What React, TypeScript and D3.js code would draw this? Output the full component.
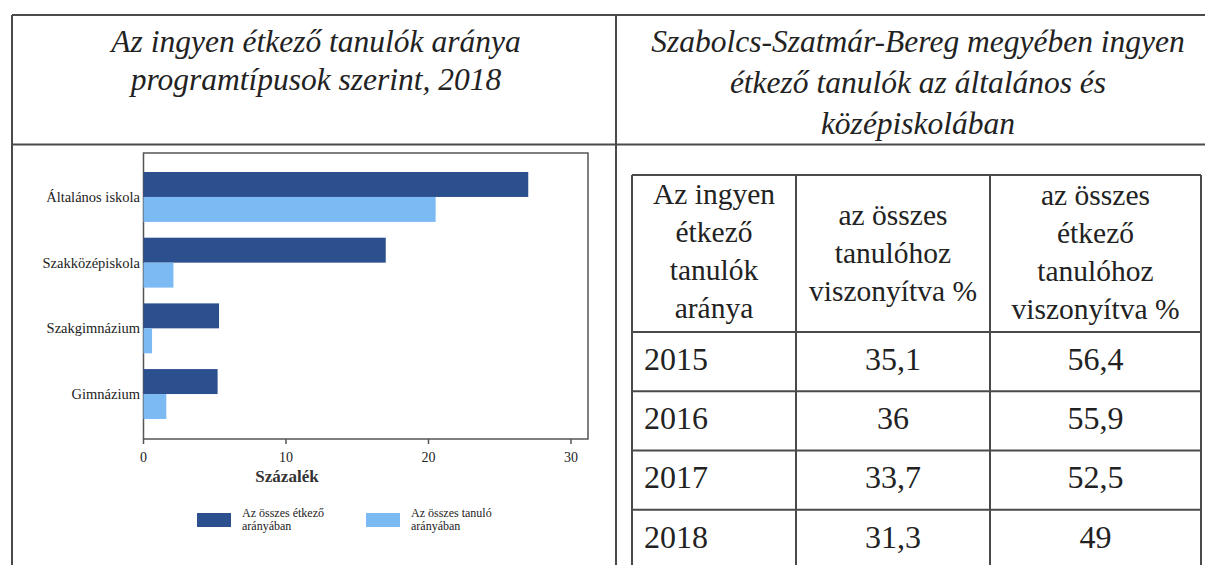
import React from "react";
import * as d3 from "d3";

const categories = ["Általános iskola", "Szakközépiskola", "Szakgimnázium", "Gimnázium"];
const seriesNames = ["Az összes étkező arányában", "Az összes tanuló arányában"];
const seriesEtkezo = [27.0, 17.0, 5.3, 5.2];
const seriesTanulo = [20.5, 2.1, 0.6, 1.6];
const xTicks = [0, 10, 20, 30];
const xAxisLabel = "Százalék";

const leftTitle = ["Az ingyen étkező tanulók aránya", "programtípusok szerint, 2018"];
const rightTitle = ["Szabolcs-Szatmár-Bereg megyében ingyen", "étkező tanulók az általános és", "középiskolában"];

const tableHeader1 = ["Az ingyen", "étkező", "tanulók", "aránya"];
const tableHeader2 = ["az összes", "tanulóhoz", "viszonyítva %"];
const tableHeader3 = ["az összes", "étkező", "tanulóhoz", "viszonyítva %"];
const years = [2015, 2016, 2017, 2018];
const pctOfAllStudents = [35.1, 36, 33.7, 31.3];
const pctOfEaters = [56.4, 55.9, 52.5, 49];

const DARK = "#2c4f8e";
const LIGHT = "#7cbaf4";
const LINE = "#4a4a4a";
const SERIF = "Liberation Serif";

const fmt = (v: number) => String(v).replace(".", ",");

export default function App() {
  const W = 1205, H = 565;
  const plot = { left: 143.5, right: 588, top: 153, bottom: 439 };
  const x = d3.scaleLinear().domain([0, 30]).range([plot.left, 143.5 + 30 * 14.25]);
  const y = d3.scaleBand<string>().domain(categories).range([172, 419]).paddingInner(0.24).paddingOuter(0);
  const sub = d3.scaleBand<string>().domain(["a", "b"]).range([0, y.bandwidth()]);

  const tX = d3.scaleOrdinal<number, number>().domain([0, 1, 2, 3]).range([632, 796, 990, 1201]);
  const rowY = d3.scaleLinear().domain([0, 4]).range([332, 569]);
  const tableTop = 175;

  const legend = [
    { color: DARK, lines: ["Az összes étkező", "arányában"], x: 197 },
    { color: LIGHT, lines: ["Az összes tanuló", "arányában"], x: 366 },
  ];

  const T = (props: any) => <text fill="#222" {...props} style={{ fontFamily: SERIF }} />;

  return (
    <svg width={W} height={H} style={{ position: "absolute", left: 0, top: 0, background: "#fff" }}>
      <rect x={0} y={0} width={W} height={H} fill="#fff" />
      <line x1={12} x2={W} y1={15} y2={15} stroke={LINE} strokeWidth={2} />
      <line x1={12} x2={W} y1={144.5} y2={144.5} stroke={LINE} strokeWidth={2} />
      <line x1={12} x2={12} y1={15} y2={H} stroke={LINE} strokeWidth={2} />
      <line x1={616} x2={616} y1={15} y2={H} stroke={LINE} strokeWidth={2} />

      {leftTitle.map((t, i) => (
        <T key={i} x={316} y={52 + i * 38} textAnchor="middle" fontStyle="italic" fontSize={31.5}>{t}</T>
      ))}
      {rightTitle.map((t, i) => (
        <T key={i} x={918} y={52 + i * 41} textAnchor="middle" fontStyle="italic" fontSize={31.5}>{t}</T>
      ))}

      <rect x={plot.left} y={plot.top} width={plot.right - plot.left} height={plot.bottom - plot.top} fill="#fff" stroke="#555" strokeWidth={1.5} />
      {categories.map((c, i) => (
        <g key={c}>
          <rect x={x(0)} y={(y(c) as number) + (sub("a") as number)} width={x(seriesEtkezo[i]) - x(0)} height={sub.bandwidth()} fill={DARK} />
          <rect x={x(0)} y={(y(c) as number) + (sub("b") as number)} width={x(seriesTanulo[i]) - x(0)} height={sub.bandwidth()} fill={LIGHT} />
          <T x={140} y={(y(c) as number) + y.bandwidth() / 2} dy="0.35em" textAnchor="end" fontSize={14.5}>{c}</T>
        </g>
      ))}
      {xTicks.map((t) => (
        <g key={t}>
          <line x1={x(t)} x2={x(t)} y1={plot.bottom} y2={plot.bottom + 5} stroke="#555" strokeWidth={1.5} />
          <T x={x(t)} y={plot.bottom + 18} dy="0.35em" textAnchor="middle" fontSize={14}>{t}</T>
        </g>
      ))}
      <T x={287} y={476} dy="0.35em" textAnchor="middle" fontSize={17} fontWeight="bold" fill="#333">{xAxisLabel}</T>

      {legend.map((l, i) => (
        <g key={i}>
          <rect x={l.x} y={513} width={34} height={14} fill={l.color} />
          {l.lines.map((s, j) => (
            <T key={j} x={l.x + 45} y={516 + j * 13} dy="0.1em" fontSize={12}>{s}</T>
          ))}
        </g>
      ))}

      <g stroke={LINE} strokeWidth={2}>
        <line x1={tX(0)} x2={tX(3)} y1={tableTop} y2={tableTop} />
        {years.map((_, i) => (
          <line key={i} x1={tX(0)} x2={tX(3)} y1={rowY(i)} y2={rowY(i)} />
        ))}
        {[0, 1, 2, 3].map((c) => (
          <line key={c} x1={tX(c)} x2={tX(c)} y1={tableTop} y2={H} />
        ))}
      </g>
      {tableHeader1.map((s, i) => (
        <T key={i} x={(tX(0) + tX(1)) / 2} y={204 + i * 38} textAnchor="middle" fontSize={29.5}>{s}</T>
      ))}
      {tableHeader2.map((s, i) => (
        <T key={i} x={(tX(1) + tX(2)) / 2} y={225 + i * 38} textAnchor="middle" fontSize={29.5}>{s}</T>
      ))}
      {tableHeader3.map((s, i) => (
        <T key={i} x={(tX(2) + tX(3)) / 2} y={205 + i * 38} textAnchor="middle" fontSize={29.5}>{s}</T>
      ))}
      {years.map((yr, i) => {
        const cy = (rowY(i) + rowY(i + 1)) / 2 - 3;
        return (
          <g key={yr}>
            <T x={tX(0) + 12} y={cy} dy="0.35em" fontSize={32}>{yr}</T>
            <T x={(tX(1) + tX(2)) / 2} y={cy} dy="0.35em" textAnchor="middle" fontSize={32}>{fmt(pctOfAllStudents[i])}</T>
            <T x={(tX(2) + tX(3)) / 2} y={cy} dy="0.35em" textAnchor="middle" fontSize={32}>{fmt(pctOfEaters[i])}</T>
          </g>
        );
      })}
    </svg>
  );
}
